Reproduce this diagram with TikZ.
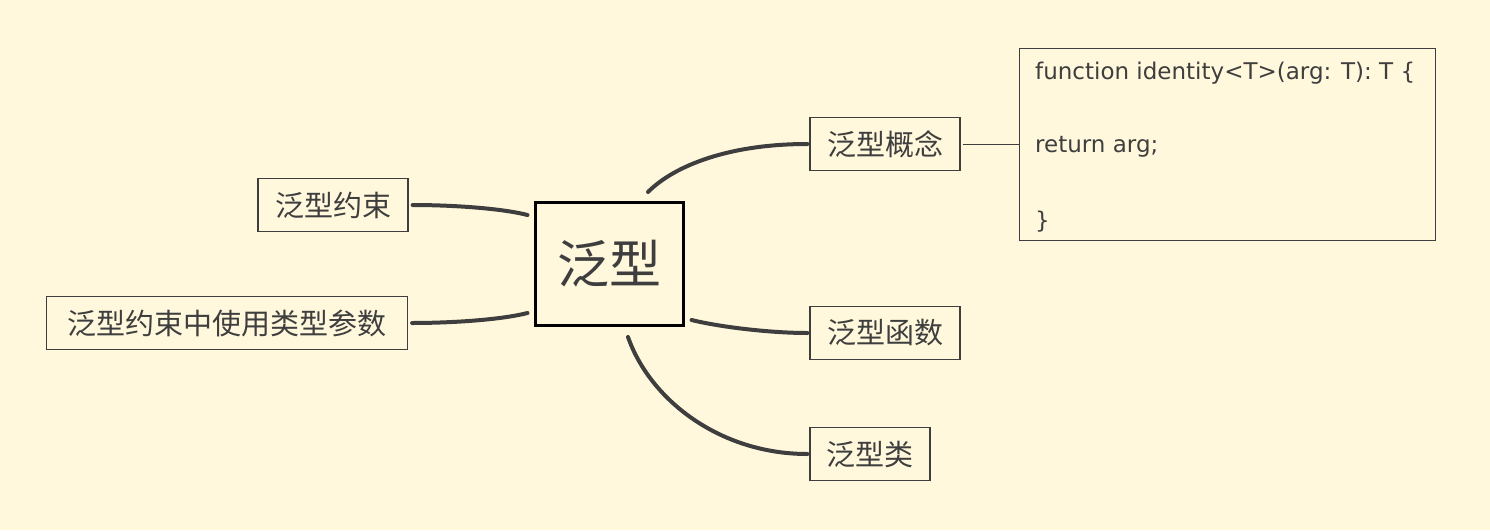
\documentclass[tikz,border=0pt]{standalone}
\usepackage{fontspec}
\setmainfont{DejaVu Sans}
\newfontfamily\cjk{Noto Sans CJK SC}
\usetikzlibrary{calc}
\definecolor{bg}{RGB}{255,248,220}
\definecolor{ink}{RGB}{62,62,62}
\tikzset{
  topicbox/.style={draw=ink, line width=1.2pt, text=ink, font=\cjk\fontsize{29}{34}\selectfont, inner sep=0pt, minimum height=53},
  centerbox/.style={draw=black, line width=3pt, text=ink, font=\cjk\fontsize{52}{60}\selectfont, inner sep=0pt, minimum width=148, minimum height=123},
  branch/.style={draw=ink, line width=4pt, line cap=round},
  codeline/.style={text=ink, font=\fontsize{23}{28}\selectfont, anchor=west, inner sep=0pt},
  thinline/.style={draw=ink, line width=0.9pt}
}
\begin{document}
\begin{tikzpicture}[x=1pt,y=-1pt]
\fill[bg] (0,0) rectangle (1490,530);
\useasboundingbox (0,0) rectangle (1490,530);

\node[centerbox] (c) at (609,264) {泛型};
\node[topicbox, minimum width=150] (gl) at (885,144) {泛型概念};
\node[topicbox, minimum width=150] (hs) at (885,333) {泛型函数};
\node[topicbox, minimum width=120] (lei) at (870,454) {泛型类};
\node[topicbox, minimum width=150] (ys) at (333,205) {泛型约束};
\node[topicbox, minimum width=361] (ysp) at (227,323) {泛型约束中使用类型参数};

\node[draw=ink, line width=1pt, minimum width=416, minimum height=192, inner sep=0pt, anchor=north west] (code) at (1019,48) {};
\node[codeline] (l1) at (1035,73) {function identity<T>(arg: T): T \{};
\node[codeline] (l2) at (1035,147) {return arg;};
\node[codeline] (l3) at (1035,222) {\}};

\draw[branch] ($(c.north)+(39,-9)$) .. controls (675,165) and (730,144) .. ($(gl.west)+(-2,0)$);
\draw[branch] ($(c.west)+(-6,-49)$) .. controls (500,208) and (450,205) .. ($(ys.east)+(4,0)$);
\draw[branch] ($(c.west)+(-6,49)$) .. controls (500,320) and (450,323) .. ($(ysp.east)+(4,0)$);
\draw[branch] ($(c.east)+(7,56)$) .. controls (720,327) and (770,333) .. ($(hs.west)+(-2,0)$);
\draw[branch] ($(c.south)+(19,10)$) .. controls (650,400) and (720,454) .. ($(lei.west)+(-2,0)$);
\draw[thinline] ($(gl.east)+(2,0)$) -- (gl.east -| code.west);
\end{tikzpicture}
\end{document}
